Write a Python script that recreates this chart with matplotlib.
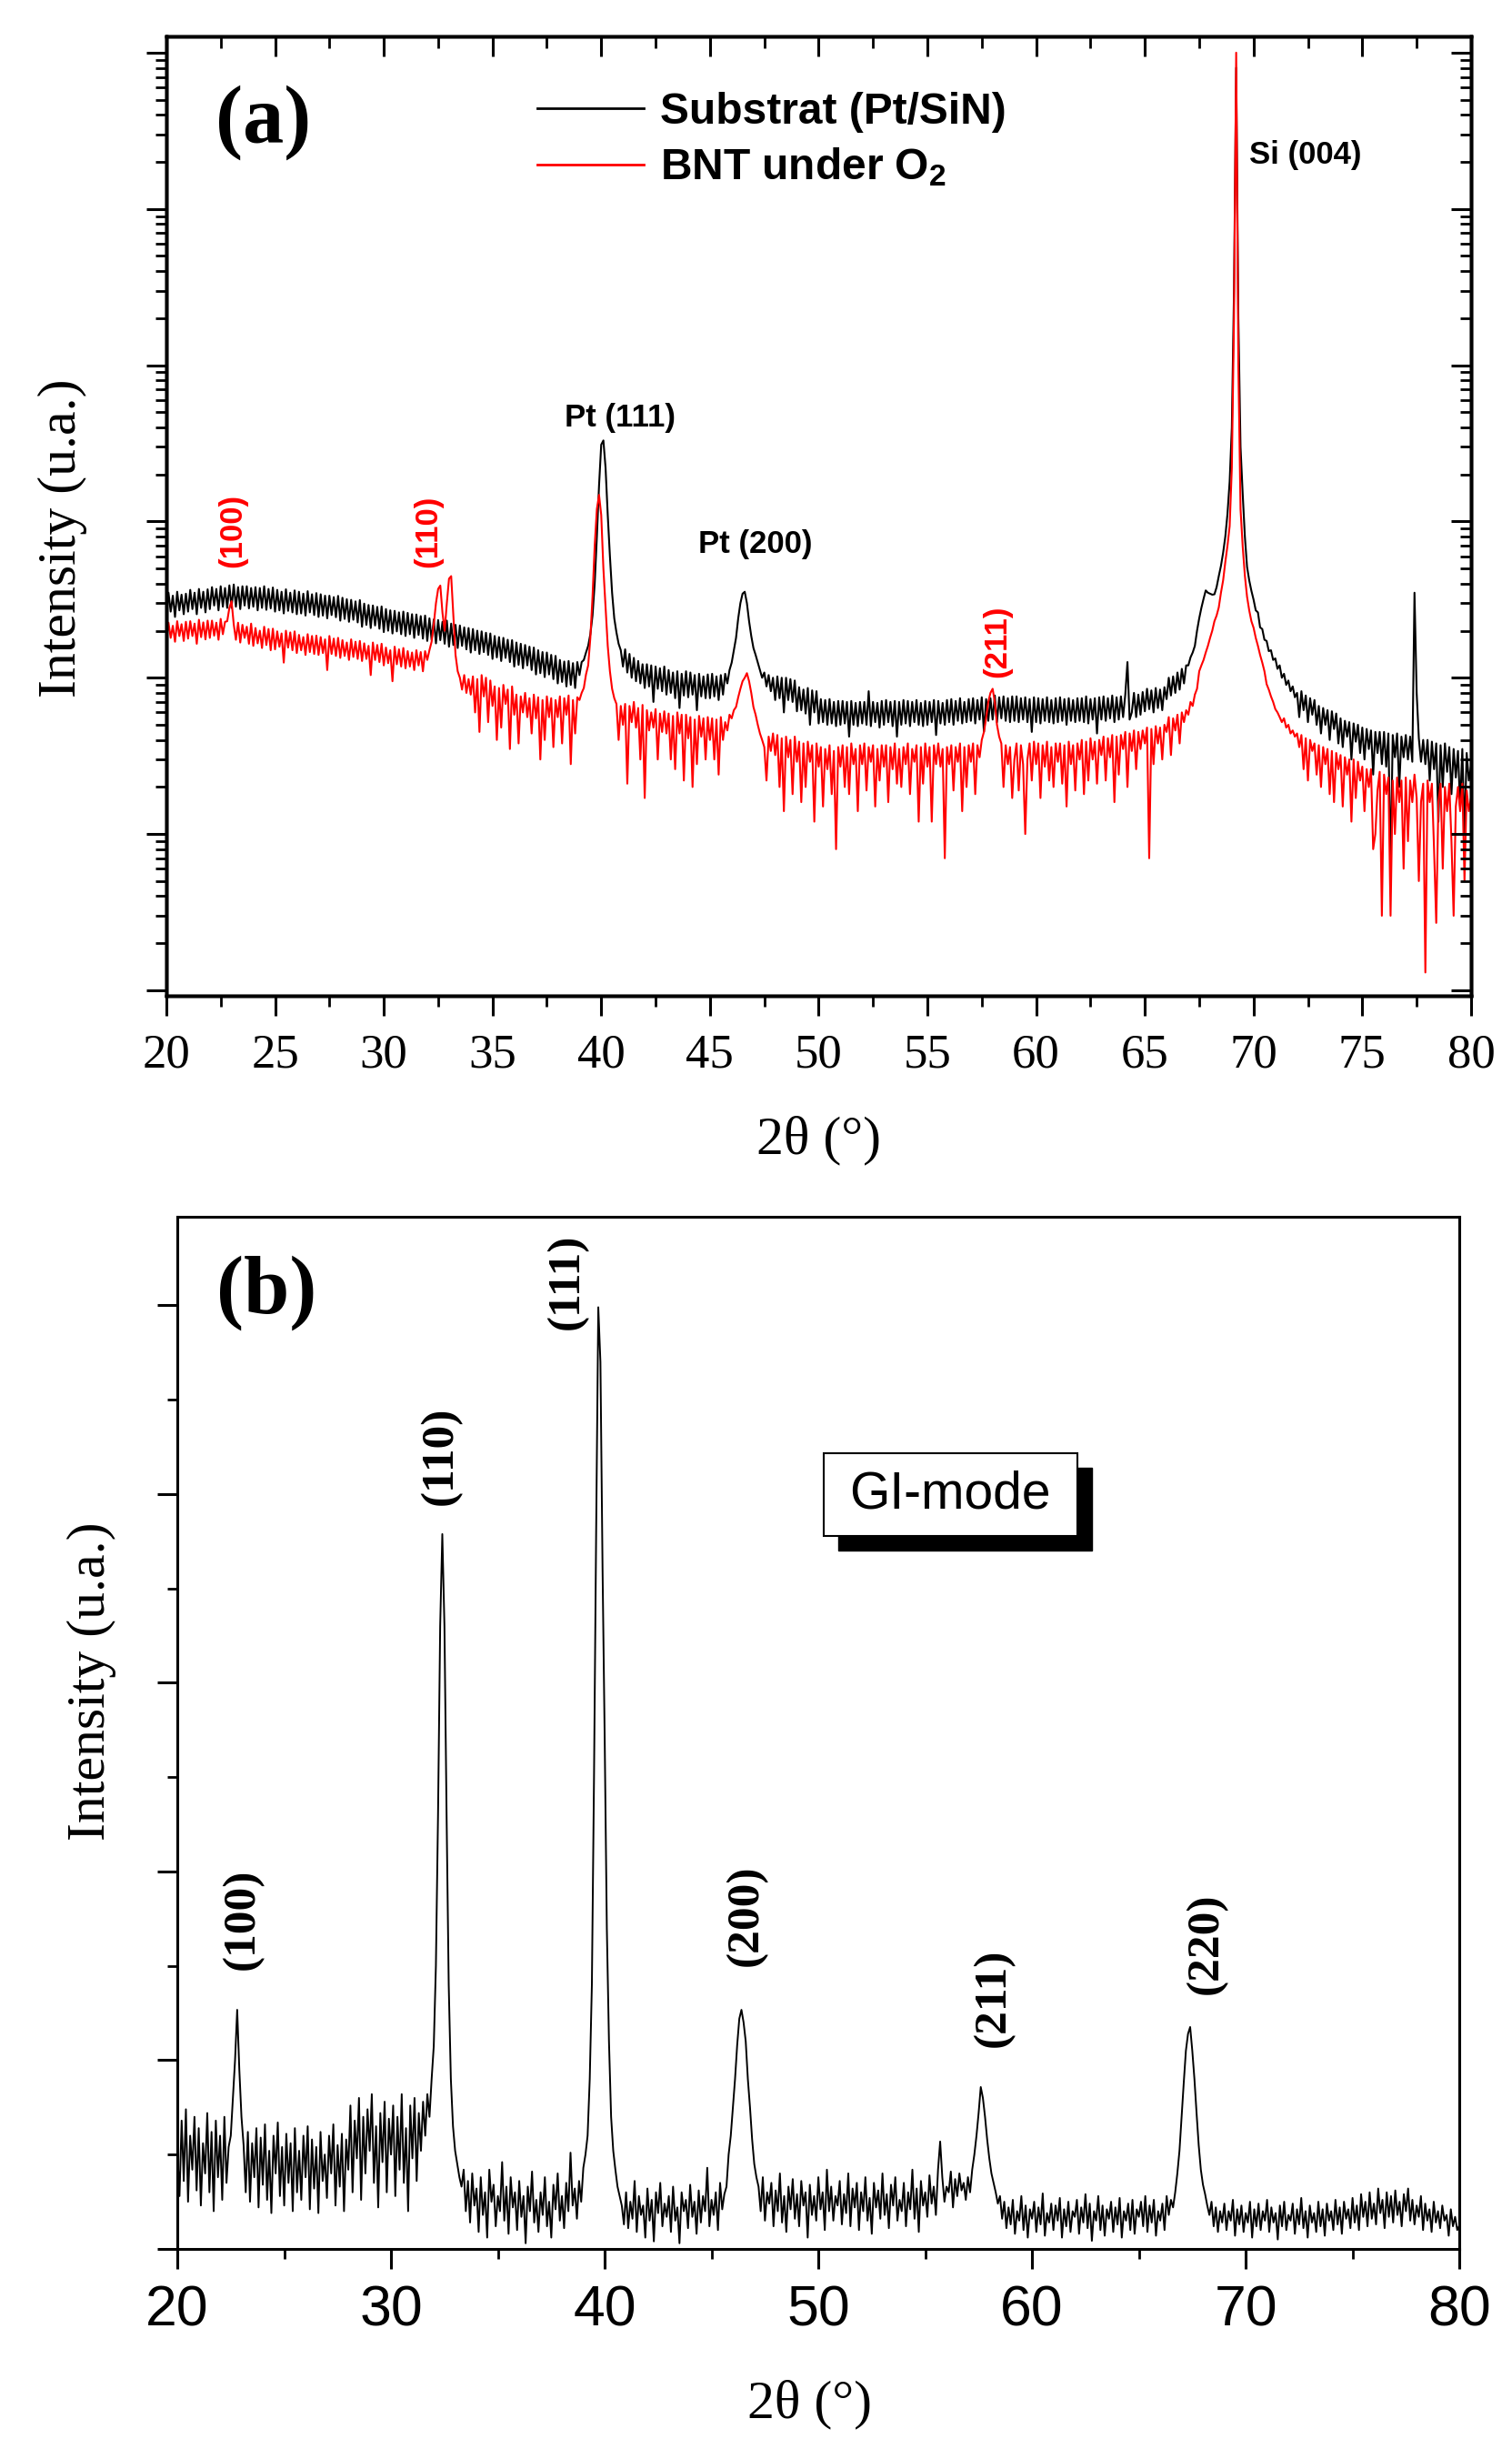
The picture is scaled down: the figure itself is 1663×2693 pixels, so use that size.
import numpy as np
import matplotlib
matplotlib.use("Agg")
import matplotlib.pyplot as plt
from matplotlib.ticker import LogLocator, MultipleLocator, NullFormatter
from matplotlib.patches import Rectangle
from matplotlib.font_manager import FontProperties

plt.rcParams['mathtext.fontset'] = 'custom'
plt.rcParams['mathtext.rm'] = 'Liberation Sans:bold'
plt.rcParams['mathtext.it'] = 'Liberation Sans:bold'
plt.rcParams['mathtext.bf'] = 'Liberation Sans:bold'

# scan grid: 20 -> 80 deg, 0.1 deg step (601 points)
two_theta = np.linspace(20, 80, 601)

# (a) substrate Pt/SiN, counts (log scale), one row = 1 deg
substrat = [
    250, 350, 265, 335, 245, 355, 270, 340, 255, 345,
    265, 365, 275, 350, 255, 370, 280, 355, 262, 368,
    275, 380, 290, 370, 270, 385, 285, 375, 280, 390,
    280, 395, 285, 380, 275, 385, 290, 385, 278, 375,
    285, 380, 270, 375, 280, 385, 272, 370, 278, 378,
    265, 365, 270, 355, 258, 368, 268, 350, 262, 362,
    255, 355, 258, 345, 250, 358, 262, 342, 252, 348,
    245, 342, 250, 335, 240, 335, 252, 328, 244, 334,
    232, 325, 238, 318, 228, 315, 235, 308, 226, 314,
    212, 298, 218, 292, 208, 290, 216, 284, 206, 286,
    196, 275, 200, 270, 192, 268, 198, 262, 190, 265,
    185, 260, 190, 255, 180, 254, 188, 248, 178, 250,
    172, 240, 175, 236, 166, 234, 174, 228, 165, 232,
    158, 222, 162, 218, 155, 216, 160, 210, 152, 208,
    145, 205, 150, 200, 142, 198, 146, 194, 140, 192,
    132, 185, 135, 182, 128, 180, 134, 175, 126, 174,
    118, 168, 121, 165, 115, 162, 120, 158, 112, 156,
    105, 150, 107, 146, 101, 145, 105, 140, 98, 138,
    92, 130, 94, 127, 88, 128, 90, 124, 86, 126,
    104, 126, 130, 145, 160, 190, 250, 400, 800, 1700,
    3100, 3300, 2200, 1100, 600, 350, 240, 195, 165, 150,
    118, 152, 108, 142, 100, 134, 95, 128, 92, 122,
    86, 122, 88, 120, 70, 118, 85, 115, 82, 118,
    78, 112, 80, 108, 74, 110, 64, 106, 77, 110,
    75, 108, 78, 104, 62, 106, 76, 102, 74, 105,
    74, 106, 76, 102, 72, 104, 78, 106, 92, 112,
    125, 150, 180, 240, 300, 345, 355, 300, 230, 185,
    155, 140, 125, 112, 100, 108, 88, 104, 82, 100,
    72, 102, 74, 100, 60, 100, 72, 98, 70, 96,
    61, 87, 62, 84, 59, 86, 50, 83, 60, 82,
    51, 73, 52, 72, 50, 73, 51, 70, 49, 71,
    50, 71, 51, 70, 42, 71, 50, 69, 49, 70,
    51, 70, 50, 82, 49, 70, 52, 69, 48, 71,
    50, 72, 52, 70, 49, 71, 42, 70, 50, 72,
    51, 71, 49, 70, 52, 72, 50, 69, 49, 71,
    50, 70, 52, 72, 43, 71, 51, 69, 50, 72,
    52, 73, 50, 71, 53, 74, 51, 70, 52, 73,
    53, 74, 51, 72, 54, 75, 45, 73, 53, 74,
    54, 77, 52, 75, 55, 76, 53, 74, 52, 76,
    53, 76, 52, 74, 54, 75, 52, 73, 45, 75,
    52, 74, 51, 73, 53, 75, 52, 72, 51, 74,
    52, 75, 53, 73, 50, 74, 53, 72, 52, 74,
    53, 74, 52, 76, 51, 73, 54, 74, 44, 75,
    54, 76, 53, 74, 55, 77, 52, 75, 54, 76,
    56, 78, 126, 54, 60, 80, 56, 78, 58, 81,
    61, 85, 63, 83, 60, 86, 64, 84, 62, 87,
    73, 100, 77, 102, 80, 108, 84, 114, 92, 120,
    120, 135, 145, 160, 200, 240, 280, 320, 362, 350,
    345, 340, 342, 380, 447, 520, 631, 800, 1120, 1800,
    3980, 30000, 800000, 20000, 3000, 1500, 800, 513, 420, 360,
    316, 270, 262, 210, 205, 175, 172, 148, 150, 130,
    133, 114, 120, 100, 106, 90, 96, 82, 88, 75,
    80, 56, 82, 62, 77, 52, 74, 58, 72, 50,
    66, 44, 64, 50, 62, 40, 61, 47, 59, 38,
    55, 36, 53, 42, 52, 30, 51, 39, 50, 33,
    48, 30, 47, 35, 46, 24, 45, 33, 45, 28,
    45, 27, 44, 6, 43, 31, 44, 20, 42, 31,
    43, 30, 42, 29, 350, 80, 41, 29, 40, 28,
    40, 22, 39, 26, 38, 12, 37, 20, 38, 25,
    36, 18, 35, 23, 34, 15, 35, 10, 33, 22,
    27,
]

# (a) BNT film under O2, counts
bnt_o2 = [
    175, 225, 180, 215, 170, 230, 185, 220, 172, 228,
    178, 230, 185, 222, 165, 235, 182, 226, 176, 232,
    180, 232, 186, 225, 175, 238, 190, 228, 230, 280,
    309, 220, 175, 225, 168, 218, 180, 212, 165, 222,
    160, 208, 166, 200, 155, 212, 162, 205, 150, 206,
    152, 198, 158, 192, 125, 200, 156, 195, 150, 198,
    144, 188, 150, 182, 140, 190, 146, 185, 142, 186,
    140, 182, 144, 176, 112, 185, 142, 178, 138, 180,
    134, 174, 138, 168, 130, 176, 136, 170, 132, 172,
    128, 166, 132, 160, 104, 168, 130, 162, 126, 165,
    120, 156, 124, 150, 95, 158, 122, 152, 118, 155,
    115, 148, 118, 145, 112, 150, 120, 146, 110, 148,
    130, 150, 170, 220, 300, 370, 389, 260, 200, 300,
    430, 447, 250, 140, 110, 100, 84, 104, 80, 98,
    78, 102, 60, 98, 45, 104, 76, 100, 52, 96,
    66, 88, 40, 86, 48, 90, 68, 84, 35, 88,
    58, 78, 38, 76, 60, 80, 56, 74, 44, 78,
    55, 75, 30, 72, 40, 76, 56, 74, 36, 72,
    56, 76, 38, 74, 58, 77, 28, 72, 44, 75,
    72, 80, 86, 105, 120, 180, 330, 700, 1200, 1479,
    1100, 500, 282, 160, 110, 85, 74, 68, 40, 66,
    50, 68, 21, 66, 52, 70, 48, 64, 30, 67,
    17, 62, 46, 60, 48, 63, 30, 59, 45, 61,
    44, 59, 30, 57, 26, 60, 44, 58, 22, 58,
    41, 56, 20, 54, 28, 57, 42, 55, 30, 56,
    40, 55, 30, 54, 24, 56, 40, 52, 46, 58,
    55, 62, 65, 75, 85, 95, 100, 107, 95, 80,
    65, 58, 50, 44, 40, 36, 22, 42, 34, 44,
    32, 43, 20, 41, 14, 42, 31, 40, 18, 42,
    29, 39, 16, 38, 20, 39, 29, 37, 12, 38,
    27, 36, 15, 35, 26, 37, 18, 34, 8, 36,
    27, 37, 20, 36, 18, 38, 28, 35, 14, 37,
    28, 38, 19, 36, 29, 37, 15, 35, 22, 37,
    27, 37, 16, 36, 26, 38, 21, 35, 20, 36,
    28, 38, 18, 35, 29, 37, 12, 36, 21, 38,
    27, 36, 12, 37, 28, 38, 27, 35, 7, 36,
    28, 37, 19, 36, 29, 38, 14, 36, 20, 37,
    29, 38, 18, 37, 31, 40, 45, 55, 70, 80,
    85, 70, 50, 42, 38, 20, 37, 28, 36, 17,
    30, 38, 19, 37, 28, 10, 30, 38, 22, 39,
    28, 38, 17, 37, 27, 39, 22, 36, 20, 38,
    29, 38, 21, 37, 15, 39, 28, 37, 19, 38,
    30, 40, 18, 39, 22, 41, 30, 39, 21, 40,
    32, 42, 22, 41, 31, 43, 16, 42, 24, 43,
    35, 45, 20, 44, 34, 46, 26, 45, 35, 46,
    38, 48, 7, 47, 28, 49, 38, 48, 30, 50,
    45, 56, 32, 55, 46, 58, 38, 60, 52, 62,
    58, 70, 66, 78, 85, 110, 120, 130, 145, 160,
    180, 200, 230, 250, 282, 350, 420, 550, 700, 933,
    2200, 20000, 1000000, 10000, 1200, 692, 450, 330, 270, 230,
    209, 180, 160, 140, 125, 110, 91, 84, 76, 70,
    63, 60, 56, 52, 55, 48, 50, 44, 46, 42,
    44, 36, 43, 26, 41, 22, 40, 34, 38, 24,
    37, 20, 36, 28, 35, 18, 34, 16, 33, 26,
    32, 15, 31, 24, 30, 12, 30, 17, 29, 22,
    27, 14, 26, 20, 26, 8, 10, 19, 25, 3,
    24, 18, 23, 3, 22, 10, 23, 16, 22, 6,
    23, 9, 22, 16, 24, 17, 5, 16, 21, 1.3,
    22, 16, 21, 8, 2.7, 16, 21, 6, 20, 14,
    21, 9, 3, 15, 20, 14, 21, 5, 19, 14,
    17,
]

# (b) grazing incidence scan, counts (linear)
gi_mode = [
    520, 280, 680, 360, 740, 250, 600, 420, 700, 310,
    640, 230, 560, 400, 720, 300, 620, 200, 680, 380,
    600, 260, 700, 350, 540, 600, 800, 1000, 1267, 950,
    700, 550, 300, 620, 250, 560, 380, 640, 220, 590,
    340, 660, 260, 520, 190, 600, 400, 670, 280, 540,
    230, 610, 350, 560, 200, 640, 300, 520, 260, 600,
    380, 650, 210, 580, 320, 540, 190, 620, 360, 500,
    270, 600, 400, 660, 230, 550, 330, 610, 200, 580,
    420, 760, 300, 680, 480, 800, 260, 700, 400, 740,
    520, 820, 350, 650, 220, 720, 460, 780, 300, 690,
    500, 760, 280, 700, 420, 820, 350, 640, 200, 760,
    480, 800, 360, 720, 520, 780, 600, 820, 700, 900,
    1075, 1500, 2300, 3300, 3788, 3300, 2300, 1400, 900, 650,
    520, 450, 380, 330, 420, 200, 360, 140, 400, 230,
    320, 90, 380, 180, 300, 60, 420, 250, 340, 120,
    280, 200, 460, 150, 330, 80, 380, 220, 300, 100,
    360, 170, 280, 30, 330, 200, 410, 140, 260, 90,
    300, 180, 380, 120, 250, 60, 340, 210, 400, 150,
    280, 110, 350, 200, 510, 230, 320, 160, 360, 250,
    430, 500, 600, 900, 1400, 2500, 3800, 4990, 4700, 3600,
    2700, 1700, 1100, 700, 520, 420, 330, 280, 230, 130,
    300, 110, 250, 160, 360, 90, 280, 180, 230, 60,
    320, 150, 260, 40, 300, 190, 350, 120, 240, 170,
    280, 90, 330, 150, 220, 30, 300, 200, 260, 110,
    340, 170, 250, 80, 310, 140, 280, 200, 430, 120,
    260, 180, 300, 100, 350, 210, 290, 330, 500, 600,
    750, 900, 1080, 1220, 1267, 1200, 1100, 900, 750, 580,
    450, 380, 330, 200, 380, 150, 300, 240, 350, 120,
    310, 200, 400, 140, 280, 90, 330, 210, 370, 160,
    290, 120, 360, 230, 300, 60, 340, 180, 280, 150,
    380, 210, 300, 100, 420, 200, 330, 150, 280, 230,
    360, 130, 290, 190, 400, 120, 320, 220, 350, 100,
    300, 200, 380, 150, 270, 80, 350, 220, 310, 160,
    400, 180, 290, 110, 340, 230, 380, 150, 260, 200,
    350, 120, 300, 210, 420, 160, 320, 90, 360, 230,
    300, 170, 390, 240, 330, 180, 420, 569, 380, 250,
    330, 300, 410, 220, 370, 280, 400, 310, 350, 260,
    380, 300, 420, 500, 600, 720, 858, 800, 700, 580,
    480, 400, 350, 300, 240, 280, 160, 250, 110, 220,
    130, 260, 80, 200, 150, 280, 100, 230, 60, 210,
    160, 250, 90, 220, 130, 294, 70, 190, 140, 240,
    100, 230, 150, 270, 60, 210, 120, 250, 90, 200,
    170, 260, 80, 220, 140, 290, 110, 240, 43, 200,
    150, 280, 100, 230, 70, 210, 160, 250, 90, 220,
    130, 270, 60, 200, 150, 240, 100, 260, 80, 210,
    170, 250, 120, 280, 90, 230, 140, 260, 70, 200,
    150, 240, 100, 280, 180, 260, 220, 300, 400, 520,
    700, 880, 1050, 1140, 1176, 1050, 900, 720, 550, 420,
    340, 290, 230, 180, 250, 120, 220, 90, 200, 140,
    240, 100, 200, 150, 260, 70, 210, 130, 230, 90,
    190, 140, 250, 60, 210, 120, 240, 100, 200, 150,
    260, 90, 220, 140, 190, 50, 230, 120, 250, 100,
    180, 150, 240, 80, 210, 130, 270, 110, 200, 60,
    230, 140, 190, 90, 250, 120, 210, 70, 240, 150,
    200, 100, 260, 130, 220, 80, 250, 160, 210, 110,
    270, 140, 230, 100, 290, 170, 250, 120, 300, 160,
    240, 130, 320, 190, 260, 110, 300, 170, 280, 140,
    310, 180, 250, 120, 290, 200, 320, 150, 260, 130,
    230, 170, 280, 100, 240, 150, 210, 90, 250, 140,
    200, 110, 230, 150, 180, 70, 210, 120, 170, 100,
    125,
]

labels_a_red = ["(100)", "(110)", "(211)"]
labels_b = ["(100)", "(110)", "(111)", "(200)", "(211)", "(220)"]

serif = "Liberation Serif"
sans = "Liberation Sans"

fig = plt.figure(figsize=(16.63, 26.93), dpi=100)

# ---------------- (a) ----------------
ax = fig.add_axes([0.1100, 0.5934, 0.8629, 0.3918])
ax.plot(two_theta, substrat, color="black", lw=1.5, label="Substrat (Pt/SiN)")
ax.plot(two_theta, bnt_o2, color="red", lw=1.5, label="BNT under O$_2$")
ax.set_yscale("log")
ax.set_xlim(20, 80)
ax.set_ylim(10 ** -0.035, 10 ** 6.105)
ax.xaxis.set_major_locator(MultipleLocator(5))
ax.xaxis.set_minor_locator(MultipleLocator(2.5))
ax.yaxis.set_major_locator(LogLocator(base=10, numticks=20))
ax.yaxis.set_minor_locator(LogLocator(base=10, subs=np.arange(2, 10), numticks=20))
ax.yaxis.set_major_formatter(NullFormatter())
ax.yaxis.set_minor_formatter(NullFormatter())
ax.tick_params(which="major", direction="out", length=16, width=2.2, pad=14)
ax.tick_params(which="minor", direction="out", length=8.5, width=2.0)
for lab in ax.get_xticklabels():
    lab.set_fontfamily(serif)
    lab.set_fontsize(38)
for s in ax.spines.values():
    s.set_linewidth(2.5)

# mirrored ticks pointing inwards on top and right
axr = ax.twinx()
axr.set_yscale("log")
axr.set_ylim(ax.get_ylim())
axr.yaxis.set_major_locator(LogLocator(base=10, numticks=20))
axr.yaxis.set_minor_locator(LogLocator(base=10, subs=np.arange(2, 10), numticks=20))
axr.yaxis.set_major_formatter(NullFormatter())
axr.yaxis.set_minor_formatter(NullFormatter())
axr.tick_params(which="major", direction="in", length=16, width=2.2)
axr.tick_params(which="minor", direction="in", length=8.5, width=2.0)
axt = ax.twiny()
axt.set_xlim(ax.get_xlim())
axt.xaxis.set_major_locator(MultipleLocator(5))
axt.xaxis.set_minor_locator(MultipleLocator(2.5))
axt.tick_params(which="major", direction="in", length=16, width=2.2, labeltop=False)
axt.tick_params(which="minor", direction="in", length=9, width=2.0)
for a in (axr, axt):
    for s in a.spines.values():
        s.set_linewidth(2.5)

ax.set_xlabel("2θ (°)", family=serif, fontsize=43)
ax.xaxis.label.set_va("center")
ax.xaxis.set_label_coords(0.5, -0.1507)
ax.set_ylabel("Intensity (u.a.)", family=serif, fontsize=43)
ax.yaxis.label.set_va("center")
ax.yaxis.set_label_coords(-0.0794, 0.4768)

ax.text(0.0746, 0.91, "(a)", transform=ax.transAxes, family=serif,
        fontweight="bold", fontsize=65, ha="center", va="center")

leg = ax.legend(loc="upper left", bbox_to_anchor=(0.2843, 0.9425), frameon=False,
                prop=FontProperties(family=sans, weight="bold", size=34.5),
                handlelength=2.45, handletextpad=0.36, borderpad=0,
                borderaxespad=0, labelspacing=0.32)
for h in leg.get_lines():
    h.set_linewidth(2.0)

kw = dict(family=sans, fontweight="bold", fontsize=25, ha="center", va="center")
ax.text(40.86, 4600, "Pt (111)", **kw)
ax.text(47.1, 716, "Pt (200)", **kw)
ax.text(72.4, 2.2e5, "Si (004)", **kw)
for (xx, yy), t in zip([(23.04, 870), (32.04, 870), (58.2, 170)], labels_a_red):
    ax.text(xx, yy, t, color="red", rotation=90, **kw)

# ---------------- (b) ----------------
bx = fig.add_axes([0.1173, 0.0817, 0.8479, 0.4215])
bx.plot(two_theta, gi_mode, color="black", lw=1.4)
bx.set_xlim(20, 80)
bx.set_ylim(0, 5470)
bx.xaxis.set_major_locator(MultipleLocator(10))
bx.xaxis.set_minor_locator(MultipleLocator(5))
bx.yaxis.set_major_locator(MultipleLocator(1000))
bx.yaxis.set_minor_locator(MultipleLocator(500))
bx.yaxis.set_major_formatter(NullFormatter())
bx.tick_params(which="major", direction="out", length=16, width=2.2, pad=12)
bx.tick_params(which="minor", direction="out", length=8, width=2.0)
for lab in bx.get_xticklabels():
    lab.set_fontfamily(sans)
    lab.set_fontsize(45)
for s in bx.spines.values():
    s.set_linewidth(2.2)

bx.set_xlabel("2θ (°)", family=serif, fontsize=43)
bx.xaxis.label.set_va("center")
bx.xaxis.set_label_coords(0.493, -0.1507)
bx.set_ylabel("Intensity (u.a.)", family=serif, fontsize=43)
bx.yaxis.label.set_va("center")
bx.yaxis.set_label_coords(-0.0667, 0.55)

bx.text(0.0695, 0.926, "(b)", transform=bx.transAxes, family=serif,
        fontweight="bold", fontsize=65, ha="center", va="center")

pos_b = [(23.04, 1749), (32.34, 4202), (38.26, 5128), (46.64, 1769), (58.2, 1330), (68.17, 1619)]
for (xx, yy), t in zip(pos_b, labels_b):
    bx.text(xx, yy, t, family=serif, fontweight="bold", fontsize=37,
            rotation=90, ha="center", va="center")

# GI-mode box with drop shadow
x0, y0, w, h = 0.504, 0.6907, 0.198, 0.0803
bx.add_patch(Rectangle((x0 + 0.01135, y0 - 0.0141), w, h, transform=bx.transAxes,
                       facecolor="black", edgecolor="black", zorder=4))
bx.add_patch(Rectangle((x0, y0), w, h, transform=bx.transAxes,
                       facecolor="white", edgecolor="black", lw=1.5, zorder=5))
bx.text(x0 + w / 2, y0 + h / 2, "GI-mode", transform=bx.transAxes, family=sans,
        fontsize=41, ha="center", va="center", zorder=6)

fig.savefig("out.png", dpi=100)
